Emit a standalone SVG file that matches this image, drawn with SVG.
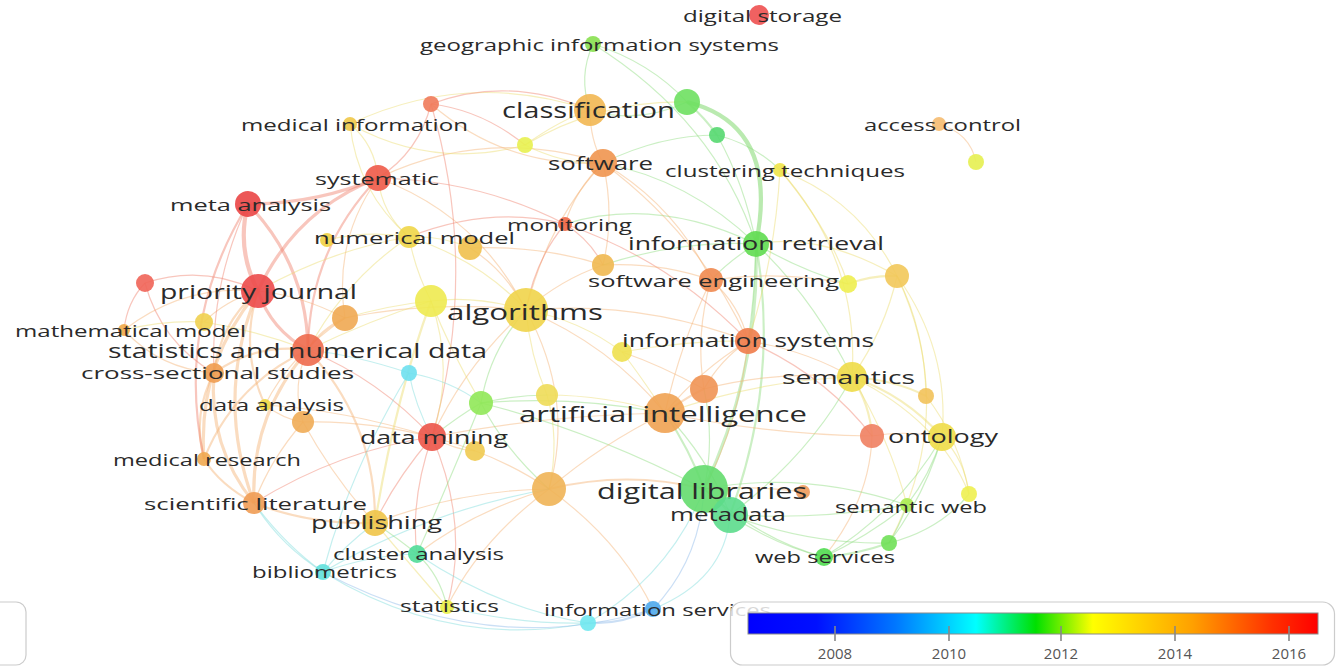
<svg xmlns="http://www.w3.org/2000/svg" width="1336" height="667" viewBox="0 0 1336 667">
<style>
.e{fill:none;stroke-width:1.2;stroke-opacity:.45}
.er{stroke:#f0806c}.eo{stroke:#f4b274}.ey{stroke:#ecdc6c}.eg{stroke:#8cdc7c}.ec{stroke:#7cdcdc}.eb{stroke:#8cb8e8}
.w2{stroke-width:2.2}.w3{stroke-width:3.2}.w4{stroke-width:4.2}
.n{fill-opacity:.9}
.l{font-family:"Open Sans","Noto Sans","DejaVu Sans",sans-serif;fill:#2a2a2a;dominant-baseline:central}
.s17{font-size:16.5px}.s18{font-size:18px}.s19{font-size:19px}.s20{font-size:20px}.s21{font-size:21px}.s22{font-size:22px}
.tick{stroke:#888;stroke-width:1.6}
.yr{font-family:"Open Sans","Noto Sans",sans-serif;font-size:15px;fill:#555;text-anchor:middle;dominant-baseline:central}
</style>
<defs>
<linearGradient id="rainbow" x1="0" y1="0" x2="1" y2="0">
<stop offset="0" stop-color="#0000ff"/>
<stop offset="0.12" stop-color="#0010ff"/>
<stop offset="0.26" stop-color="#0078ff"/>
<stop offset="0.40" stop-color="#00ffff"/>
<stop offset="0.505" stop-color="#00e000"/>
<stop offset="0.605" stop-color="#ffff00"/>
<stop offset="0.78" stop-color="#ffa000"/>
<stop offset="0.92" stop-color="#ff3000"/>
<stop offset="1" stop-color="#ff0000"/>
</linearGradient>
</defs>
<rect width="1336" height="667" fill="#ffffff"/>
<g id="connectors">
<path class="e er w4" d="M248,204 Q236,249 258,291"/>
<path class="e er w3" d="M248,204 Q316,204 378,178"/>
<path class="e er w3" d="M248,204 Q307,265 308,350"/>
<path class="e er w3" d="M378,178 Q295,210 258,291"/>
<path class="e er w2" d="M378,178 Q309,250 308,350"/>
<path class="e er w3" d="M258,291 Q271,330 308,350"/>
<path class="e er" d="M258,291 Q203,264 145,283"/>
<path class="e eo" d="M258,291 Q183,284 124,330"/>
<path class="e eo" d="M258,291 Q226,300 204,322"/>
<path class="e eo w2" d="M258,291 Q220,323 214,373"/>
<path class="e eo w2" d="M258,291 Q239,349 265,405"/>
<path class="e eo w3" d="M258,291 Q197,364 204,459"/>
<path class="e eo w3" d="M258,291 Q214,396 254,503"/>
<path class="e eo w3" d="M308,350 Q250,416 254,503"/>
<path class="e eo w2" d="M308,350 Q234,384 204,459"/>
<path class="e eo w2" d="M308,350 Q256,343 214,373"/>
<path class="e eo" d="M308,350 Q291,385 303,422"/>
<path class="e eo w2" d="M308,350 Q376,423 375,523"/>
<path class="e eo w3" d="M214,373 Q208,446 254,503"/>
<path class="e eo w2" d="M214,373 Q192,414 204,459"/>
<path class="e er" d="M145,283 Q127,302 124,330"/>
<path class="e er" d="M145,283 Q161,342 214,373"/>
<path class="e eo" d="M124,330 Q160,369 214,373"/>
<path class="e er w2" d="M248,204 Q175,323 204,459"/>
<path class="e er" d="M248,204 Q210,285 214,373"/>
<path class="e ey" d="M378,178 Q375,145 350,124"/>
<path class="e er" d="M378,178 Q419,152 431,104"/>
<path class="e ey" d="M378,178 Q382,214 409,237"/>
<path class="e eo" d="M378,178 Q487,126 603,163"/>
<path class="e eo" d="M378,178 Q478,215 526,310"/>
<path class="e eo" d="M378,178 Q333,241 345,318"/>
<path class="e ey" d="M350,124 Q467,69 590,110"/>
<path class="e ey" d="M350,124 Q357,192 409,237"/>
<path class="e ey" d="M350,124 Q433,170 525,145"/>
<path class="e er" d="M431,104 Q509,75 590,110"/>
<path class="e er" d="M431,104 Q482,110 525,145"/>
<path class="e er" d="M431,104 Q480,270 432,437"/>
<path class="e eo" d="M431,104 Q505,168 603,163"/>
<path class="e ey" d="M525,145 Q560,120 590,110"/>
<path class="e ey" d="M525,145 Q600,100 687,102"/>
<path class="e ey" d="M525,145 Q565,165 603,163"/>
<path class="e eg" d="M590,110 Q637,125 687,102"/>
<path class="e eo" d="M590,110 Q590,140 603,163"/>
<path class="e eg" d="M590,110 Q578,77 593,44"/>
<path class="e eg" d="M593,44 Q650,62 687,102"/>
<path class="e eg" d="M593,44 Q715,120 756,244"/>
<path class="e eg w2" d="M687,102 Q705,118 717,135"/>
<path class="e eg w4" style="stroke-opacity:.6" d="M687,102 Q780,125 756,244"/>
<path class="e eg" d="M717,135 Q755,145 780,170"/>
<path class="e eg" d="M717,135 Q660,135 603,163"/>
<path class="e eg" d="M717,135 Q745,185 756,244"/>
<path class="e eg w3" d="M756,244 Q760,370 704,489"/>
<path class="e eg w2" d="M756,244 Q780,380 730,515"/>
<path class="e eg" d="M756,244 Q730,260 711,280"/>
<path class="e eg" d="M756,244 Q656,196 565,224"/>
<path class="e eg" d="M756,244 Q800,270 848,284"/>
<path class="e ey" d="M756,244 Q820,232 897,276"/>
<path class="e ey" d="M780,170 Q860,200 897,276"/>
<path class="e ey" d="M780,170 Q775,260 748,341"/>
<path class="e ey" d="M780,170 Q860,260 852,377"/>
<path class="e ey" d="M780,170 Q830,230 848,284"/>
<path class="e eo" d="M939,124 Q970,133 976,162"/>
<path class="e eo" d="M603,163 Q575,190 565,224"/>
<path class="e eo" d="M603,163 Q615,215 603,265"/>
<path class="e eo" d="M603,163 Q675,205 711,280"/>
<path class="e eo" d="M603,163 Q700,235 748,341"/>
<path class="e eo" d="M603,163 Q548,222 526,310"/>
<path class="e eg" d="M603,163 Q690,180 756,244"/>
<path class="e er" d="M565,224 Q590,240 603,265"/>
<path class="e er" d="M565,224 Q670,260 748,341"/>
<path class="e er" d="M565,224 Q535,260 526,310"/>
<path class="e ey" d="M409,237 Q368,230 327,240"/>
<path class="e ey" d="M409,237 Q480,260 526,310"/>
<path class="e ey" d="M409,237 Q440,235 470,248"/>
<path class="e ey" d="M409,237 Q345,280 308,350"/>
<path class="e ey" d="M409,237 Q330,250 258,291"/>
<path class="e ey" d="M409,237 Q415,270 431,301"/>
<path class="e eo" d="M470,248 Q505,270 526,310"/>
<path class="e eo" d="M470,248 Q540,245 603,265"/>
<path class="e eo" d="M603,265 Q660,262 711,280"/>
<path class="e eo" d="M603,265 Q560,280 526,310"/>
<path class="e eo" d="M711,280 Q740,305 748,341"/>
<path class="e eo" d="M711,280 Q780,270 848,284"/>
<path class="e eo" d="M711,280 Q695,335 704,389"/>
<path class="e eo" d="M711,280 Q680,345 665,413"/>
<path class="e ey w2" d="M848,284 Q872,275 897,276"/>
<path class="e ey" d="M897,276 Q885,330 852,377"/>
<path class="e ey" d="M897,276 Q925,330 926,396"/>
<path class="e ey" d="M897,276 Q950,350 942,437"/>
<path class="e ey" d="M897,276 Q960,410 889,543"/>
<path class="e ey" d="M526,310 Q475,295 431,301"/>
<path class="e eo" d="M526,310 Q610,345 665,413"/>
<path class="e ey" d="M526,310 Q580,320 622,352"/>
<path class="e ey" d="M526,310 Q530,355 547,395"/>
<path class="e eo" d="M526,310 Q465,365 432,437"/>
<path class="e eo" d="M526,310 Q640,300 748,341"/>
<path class="e eg" d="M526,310 Q490,350 481,403"/>
<path class="e eo" d="M526,310 Q435,300 345,318"/>
<path class="e eo" d="M526,310 Q575,400 549,489"/>
<path class="e ey" d="M431,301 Q390,305 345,318"/>
<path class="e ey" d="M431,301 Q370,320 308,350"/>
<path class="e ey" d="M431,301 Q455,370 432,437"/>
<path class="e eo" d="M748,341 Q805,350 852,377"/>
<path class="e eo" d="M748,341 Q720,360 704,389"/>
<path class="e eo" d="M748,341 Q700,370 665,413"/>
<path class="e er" d="M748,341 Q825,375 872,436"/>
<path class="e eo" d="M748,341 Q740,420 704,489"/>
<path class="e ey w2" d="M852,377 Q895,380 926,396"/>
<path class="e ey w2" d="M852,377 Q870,405 872,436"/>
<path class="e ey w2" d="M852,377 Q905,395 942,437"/>
<path class="e ey" d="M852,377 Q890,440 907,505"/>
<path class="e ey" d="M852,377 Q760,380 665,413"/>
<path class="e ey" d="M852,377 Q940,420 969,494"/>
<path class="e ey" d="M926,396 Q960,440 969,494"/>
<path class="e eo" d="M872,436 Q905,430 942,437"/>
<path class="e eo" d="M872,436 Q870,500 824,557"/>
<path class="e eg" d="M942,437 Q930,475 907,505"/>
<path class="e eg" d="M942,437 Q925,495 889,543"/>
<path class="e ey" d="M942,437 Q965,460 969,494"/>
<path class="e eg w2" d="M889,543 Q855,555 824,557"/>
<path class="e eg" d="M889,543 Q900,525 907,505"/>
<path class="e eg" d="M889,543 Q940,530 969,494"/>
<path class="e eg" d="M889,543 Q810,545 730,515"/>
<path class="e eg" d="M824,557 Q775,545 730,515"/>
<path class="e eg" d="M824,557 Q760,540 704,489"/>
<path class="e eg" d="M824,557 Q870,535 907,505"/>
<path class="e eg" d="M824,557 Q900,510 942,437"/>
<path class="e eg" d="M907,505 Q805,470 704,489"/>
<path class="e eg" d="M907,505 Q820,520 730,515"/>
<path class="e eg w2" d="M704,489 Q720,500 730,515"/>
<path class="e eg w2" d="M704,489 Q690,450 665,413"/>
<path class="e eg" d="M704,489 Q715,440 704,389"/>
<path class="e eo" d="M704,489 Q755,485 803,492"/>
<path class="e eo w2" d="M704,489 Q627,470 549,489"/>
<path class="e eg" d="M704,489 Q590,430 481,403"/>
<path class="e eb" d="M704,489 Q700,560 653,609"/>
<path class="e ec" d="M704,489 Q670,575 588,623"/>
<path class="e ec" d="M730,515 Q725,580 653,609"/>
<path class="e eg" d="M730,515 Q710,460 665,413"/>
<path class="e eg" d="M730,515 Q810,455 852,377"/>
<path class="e eo w2" d="M665,413 Q690,395 704,389"/>
<path class="e ey" d="M665,413 Q605,395 547,395"/>
<path class="e eg" d="M665,413 Q570,395 481,403"/>
<path class="e eo" d="M665,413 Q545,415 432,437"/>
<path class="e eo" d="M665,413 Q600,445 549,489"/>
<path class="e ey" d="M665,413 Q640,375 622,352"/>
<path class="e eo" d="M665,413 Q770,435 872,436"/>
<path class="e eo" d="M704,389 Q780,370 852,377"/>
<path class="e eo" d="M704,389 Q660,365 622,352"/>
<path class="e eg" d="M432,437 Q460,415 481,403"/>
<path class="e eo" d="M432,437 Q455,450 475,451"/>
<path class="e eo" d="M432,437 Q500,455 549,489"/>
<path class="e er" d="M432,437 Q395,480 375,523"/>
<path class="e er" d="M432,437 Q470,525 447,607"/>
<path class="e er" d="M432,437 Q410,500 417,554"/>
<path class="e er" d="M432,437 Q380,380 308,350"/>
<path class="e ec" d="M432,437 Q415,405 409,373"/>
<path class="e eo" d="M432,437 Q345,410 265,405"/>
<path class="e eo" d="M432,437 Q365,420 303,422"/>
<path class="e er" d="M432,437 Q340,450 254,503"/>
<path class="e eo" d="M549,489 Q460,490 375,523"/>
<path class="e eo" d="M549,489 Q475,510 417,554"/>
<path class="e eo" d="M549,489 Q480,540 447,607"/>
<path class="e eo" d="M549,489 Q620,540 653,609"/>
<path class="e eg" d="M549,489 Q505,450 481,403"/>
<path class="e ey" d="M549,489 Q560,440 547,395"/>
<path class="e ec" d="M549,489 Q430,510 323,572"/>
<path class="e eo w2" d="M375,523 Q310,525 254,503"/>
<path class="e eg" d="M375,523 Q400,540 417,554"/>
<path class="e ec" d="M375,523 Q345,545 323,572"/>
<path class="e ey" d="M375,523 Q415,570 447,607"/>
<path class="e ey w2" d="M375,523 Q395,400 431,301"/>
<path class="e ec" d="M323,572 Q370,555 417,554"/>
<path class="e ec" d="M323,572 Q450,650 588,623"/>
<path class="e eb" d="M323,572 Q490,660 653,609"/>
<path class="e ec" d="M323,572 Q280,545 254,503"/>
<path class="e ec" d="M417,554 Q500,610 588,623"/>
<path class="e eg" d="M417,554 Q440,575 447,607"/>
<path class="e ec" d="M447,607 Q520,625 588,623"/>
<path class="e eb w2" d="M653,609 Q620,625 588,623"/>
<path class="e ec" d="M409,373 Q355,355 308,350"/>
<path class="e ec" d="M409,373 Q450,380 481,403"/>
<path class="e ec" d="M409,373 Q350,470 323,572"/>
<path class="e eg" d="M481,403 Q515,395 547,395"/>
<path class="e eg" d="M481,403 Q450,480 417,554"/>
<path class="e ey" d="M481,403 Q450,350 431,301"/>
<path class="e eo w2" d="M345,318 Q320,330 308,350"/>
<path class="e eo" d="M345,318 Q290,355 265,405"/>
<path class="e eo" d="M345,318 Q300,295 258,291"/>
<path class="e ey" d="M204,322 Q165,320 124,330"/>
<path class="e ey" d="M204,322 Q255,330 308,350"/>
<path class="e eo" d="M265,405 Q285,420 303,422"/>
<path class="e eo" d="M303,422 Q270,460 254,503"/>
<path class="e eo" d="M303,422 Q335,480 375,523"/>
<path class="e eo w2" d="M204,459 Q220,485 254,503"/>
<path class="e ec" d="M254,503 Q285,545 323,572"/>
<path class="e ey" d="M622,352 Q690,340 748,341"/>
<path class="e er" d="M565,224 Q490,205 409,237"/>
<path class="e er" d="M378,178 Q480,180 565,224"/>
<path class="e eg" d="M756,244 Q755,295 748,341"/>
<path class="e eg" d="M756,244 Q680,240 603,265"/>
<path class="e eg" d="M756,244 Q815,300 852,377"/>
</g>
<g id="node-unlabeled">
<circle class="n" cx="687" cy="102" r="13" fill="#6ee060"/>
<circle class="n" cx="717" cy="135" r="8" fill="#55d870"/>
<circle class="n" cx="431" cy="104" r="8" fill="#f07a5a"/>
<circle class="n" cx="976" cy="162" r="8" fill="#e6ef50"/>
<circle class="n" cx="525" cy="145" r="8" fill="#e8f150"/>
<circle class="n" cx="327" cy="240" r="7" fill="#f0d040"/>
<circle class="n" cx="470" cy="248" r="12" fill="#f0c04c"/>
<circle class="n" cx="603" cy="265" r="11" fill="#f0b850"/>
<circle class="n" cx="848" cy="284" r="9" fill="#eeee50"/>
<circle class="n" cx="897" cy="276" r="12" fill="#f2c85a"/>
<circle class="n" cx="145" cy="283" r="9" fill="#f06458"/>
<circle class="n" cx="431" cy="301" r="16" fill="#eeea50"/>
<circle class="n" cx="345" cy="318" r="13" fill="#f0a852"/>
<circle class="n" cx="204" cy="322" r="9" fill="#f0d050"/>
<circle class="n" cx="622" cy="352" r="10" fill="#eee050"/>
<circle class="n" cx="409" cy="373" r="8" fill="#6ee0f0"/>
<circle class="n" cx="704" cy="389" r="14" fill="#f09454"/>
<circle class="n" cx="926" cy="396" r="8" fill="#f2c25a"/>
<circle class="n" cx="547" cy="395" r="11" fill="#eedc58"/>
<circle class="n" cx="481" cy="403" r="12" fill="#90e858"/>
<circle class="n" cx="303" cy="422" r="11" fill="#f0ac56"/>
<circle class="n" cx="475" cy="451" r="10" fill="#f0ca50"/>
<circle class="n" cx="872" cy="436" r="12" fill="#f08060"/>
<circle class="n" cx="549" cy="489" r="17" fill="#f0b456"/>
<circle class="n" cx="803" cy="492" r="7" fill="#f09a5a"/>
<circle class="n" cx="969" cy="494" r="8" fill="#eef050"/>
<circle class="n" cx="889" cy="543" r="8" fill="#70e058"/>
<circle class="n" cx="588" cy="623" r="8" fill="#70e8f0"/>
</g>
<g id="node-digital-storage"><circle class="n" cx="759" cy="15" r="10" fill="#ee5050"/><text class="l s17" x="683" y="15" textLength="159" lengthAdjust="spacingAndGlyphs">digital storage</text></g>
<g id="node-geographic-information-systems"><circle class="n" cx="593" cy="44" r="8" fill="#88e050"/><text class="l s17" x="420" y="44" textLength="359" lengthAdjust="spacingAndGlyphs">geographic information systems</text></g>
<g id="node-classification"><circle class="n" cx="590" cy="110" r="16" fill="#f2b752"/><text class="l s21" x="502" y="110" textLength="173" lengthAdjust="spacingAndGlyphs">classification</text></g>
<g id="node-medical-information"><circle class="n" cx="350" cy="124" r="7" fill="#f0c848"/><text class="l s17" x="241" y="124" textLength="227" lengthAdjust="spacingAndGlyphs">medical information</text></g>
<g id="node-access-control"><circle class="n" cx="939" cy="124" r="7" fill="#f5bb70"/><text class="l s17" x="864" y="124" textLength="157" lengthAdjust="spacingAndGlyphs">access control</text></g>
<g id="node-software"><circle class="n" cx="603" cy="163" r="14" fill="#f0954f"/><text class="l s18" x="548" y="163" textLength="105" lengthAdjust="spacingAndGlyphs">software</text></g>
<g id="node-clustering-techniques"><circle class="n" cx="780" cy="170" r="7" fill="#eee448"/><text class="l s17" x="665" y="170" textLength="240" lengthAdjust="spacingAndGlyphs">clustering techniques</text></g>
<g id="node-systematic"><circle class="n" cx="378" cy="178" r="13" fill="#ee5a48"/><text class="l s17" x="315" y="178" textLength="124" lengthAdjust="spacingAndGlyphs">systematic</text></g>
<g id="node-meta-analysis"><circle class="n" cx="248" cy="204" r="13" fill="#ea4545"/><text class="l s17" x="170" y="204" textLength="161" lengthAdjust="spacingAndGlyphs">meta analysis</text></g>
<g id="node-monitoring"><circle class="n" cx="565" cy="224" r="7" fill="#ee6644"/><text class="l s17" x="507" y="224" textLength="125" lengthAdjust="spacingAndGlyphs">monitoring</text></g>
<g id="node-numerical-model"><circle class="n" cx="409" cy="237" r="11" fill="#f0d648"/><text class="l s17" x="314" y="237" textLength="201" lengthAdjust="spacingAndGlyphs">numerical model</text></g>
<g id="node-information-retrieval"><circle class="n" cx="756" cy="244" r="13" fill="#5fdc50"/><text class="l s18" x="628" y="243" textLength="256" lengthAdjust="spacingAndGlyphs">information retrieval</text></g>
<g id="node-software-engineering"><circle class="n" cx="711" cy="280" r="12" fill="#f08a50"/><text class="l s17" x="588" y="280" textLength="251" lengthAdjust="spacingAndGlyphs">software engineering</text></g>
<g id="node-priority-journal"><circle class="n" cx="258" cy="291" r="17" fill="#ec4a4a"/><text class="l s20" x="160" y="291" textLength="197" lengthAdjust="spacingAndGlyphs">priority journal</text></g>
<g id="node-algorithms"><circle class="n" cx="526" cy="310" r="22" fill="#f0d44a"/><text class="l s22" x="447" y="311" textLength="156" lengthAdjust="spacingAndGlyphs">algorithms</text></g>
<g id="node-mathematical-model"><circle class="n" cx="124" cy="330" r="6" fill="#f0a848"/><text class="l s17" x="15" y="330" textLength="231" lengthAdjust="spacingAndGlyphs">mathematical model</text></g>
<g id="node-statistics-and-numerical-data"><circle class="n" cx="308" cy="350" r="16" fill="#ee6a4c"/><text class="l s20" x="108" y="350" textLength="379" lengthAdjust="spacingAndGlyphs">statistics and numerical data</text></g>
<g id="node-information-systems"><circle class="n" cx="748" cy="341" r="13" fill="#f07c4a"/><text class="l s18" x="622" y="340" textLength="252" lengthAdjust="spacingAndGlyphs">information systems</text></g>
<g id="node-cross-sectional-studies"><circle class="n" cx="214" cy="373" r="10" fill="#f09c50"/><text class="l s17" x="81" y="372" textLength="273" lengthAdjust="spacingAndGlyphs">cross-sectional studies</text></g>
<g id="node-semantics"><circle class="n" cx="852" cy="377" r="15" fill="#eedc48"/><text class="l s19" x="782" y="377" textLength="133" lengthAdjust="spacingAndGlyphs">semantics</text></g>
<g id="node-data-analysis"><circle class="n" cx="265" cy="405" r="6" fill="#f0d840"/><text class="l s17" x="199" y="404" textLength="145" lengthAdjust="spacingAndGlyphs">data analysis</text></g>
<g id="node-artificial-intelligence"><circle class="n" cx="665" cy="413" r="20" fill="#f0a252"/><text class="l s22" x="519" y="413" textLength="288" lengthAdjust="spacingAndGlyphs">artificial intelligence</text></g>
<g id="node-data-mining"><circle class="n" cx="432" cy="437" r="14" fill="#ec5448"/><text class="l s18" x="360" y="437" textLength="148" lengthAdjust="spacingAndGlyphs">data mining</text></g>
<g id="node-ontology"><circle class="n" cx="942" cy="437" r="14" fill="#eedc48"/><text class="l s19" x="888" y="436" textLength="110" lengthAdjust="spacingAndGlyphs">ontology</text></g>
<g id="node-medical-research"><circle class="n" cx="204" cy="459" r="7" fill="#f0a850"/><text class="l s17" x="113" y="459" textLength="188" lengthAdjust="spacingAndGlyphs">medical research</text></g>
<g id="node-digital-libraries"><circle class="n" cx="704" cy="489" r="24" fill="#64dc6e"/><text class="l s22" x="597" y="490" textLength="210" lengthAdjust="spacingAndGlyphs">digital libraries</text></g>
<g id="node-metadata"><circle class="n" cx="730" cy="515" r="18" fill="#5cdc8c"/><text class="l s18" x="670" y="514" textLength="116" lengthAdjust="spacingAndGlyphs">metadata</text></g>
<g id="node-semantic-web"><circle class="n" cx="907" cy="505" r="7" fill="#a8ea50"/><text class="l s17" x="835" y="506" textLength="152" lengthAdjust="spacingAndGlyphs">semantic web</text></g>
<g id="node-scientific-literature"><circle class="n" cx="254" cy="503" r="11" fill="#f09c54"/><text class="l s17" x="144" y="503" textLength="223" lengthAdjust="spacingAndGlyphs">scientific literature</text></g>
<g id="node-publishing"><circle class="n" cx="375" cy="523" r="13" fill="#f0c448"/><text class="l s19" x="311" y="522" textLength="131" lengthAdjust="spacingAndGlyphs">publishing</text></g>
<g id="node-cluster-analysis"><circle class="n" cx="417" cy="554" r="9" fill="#50dc98"/><text class="l s17" x="333" y="553" textLength="171" lengthAdjust="spacingAndGlyphs">cluster analysis</text></g>
<g id="node-web-services"><circle class="n" cx="824" cy="557" r="9" fill="#50dc50"/><text class="l s17" x="755" y="556" textLength="140" lengthAdjust="spacingAndGlyphs">web services</text></g>
<g id="node-bibliometrics"><circle class="n" cx="323" cy="572" r="8" fill="#60e0dc"/><text class="l s17" x="252" y="571" textLength="145" lengthAdjust="spacingAndGlyphs">bibliometrics</text></g>
<g id="node-statistics"><circle class="n" cx="447" cy="607" r="7" fill="#e8ee44"/><text class="l s17" x="400" y="605" textLength="99" lengthAdjust="spacingAndGlyphs">statistics</text></g>
<g id="node-information-services"><circle class="n" cx="653" cy="609" r="8" fill="#4ea8ec"/><text class="l s17" x="544" y="609" textLength="227" lengthAdjust="spacingAndGlyphs">information services</text></g>
<g id="panel-left"><rect x="-30" y="602" width="56" height="63" rx="10" fill="#ffffff" fill-opacity=".8" stroke="#cccccc" stroke-width="1.2"/></g>
<g id="legend">
<rect x="730.5" y="602" width="604" height="63" rx="12" fill="#ffffff" fill-opacity=".82" stroke="#cccccc" stroke-width="1.2"/>
<rect x="748" y="613" width="570" height="21" fill="url(#rainbow)" stroke="#8a8a8a" stroke-width="1"/>
<line class="tick" x1="835" y1="626" x2="835" y2="641"/>
<line class="tick" x1="949" y1="626" x2="949" y2="641"/>
<line class="tick" x1="1061" y1="626" x2="1061" y2="641"/>
<line class="tick" x1="1175" y1="626" x2="1175" y2="641"/>
<line class="tick" x1="1289" y1="626" x2="1289" y2="641"/>
<text class="yr" x="835" y="653">2008</text>
<text class="yr" x="949" y="653">2010</text>
<text class="yr" x="1061" y="653">2012</text>
<text class="yr" x="1175" y="653">2014</text>
<text class="yr" x="1289" y="653">2016</text>
</g>
</svg>
